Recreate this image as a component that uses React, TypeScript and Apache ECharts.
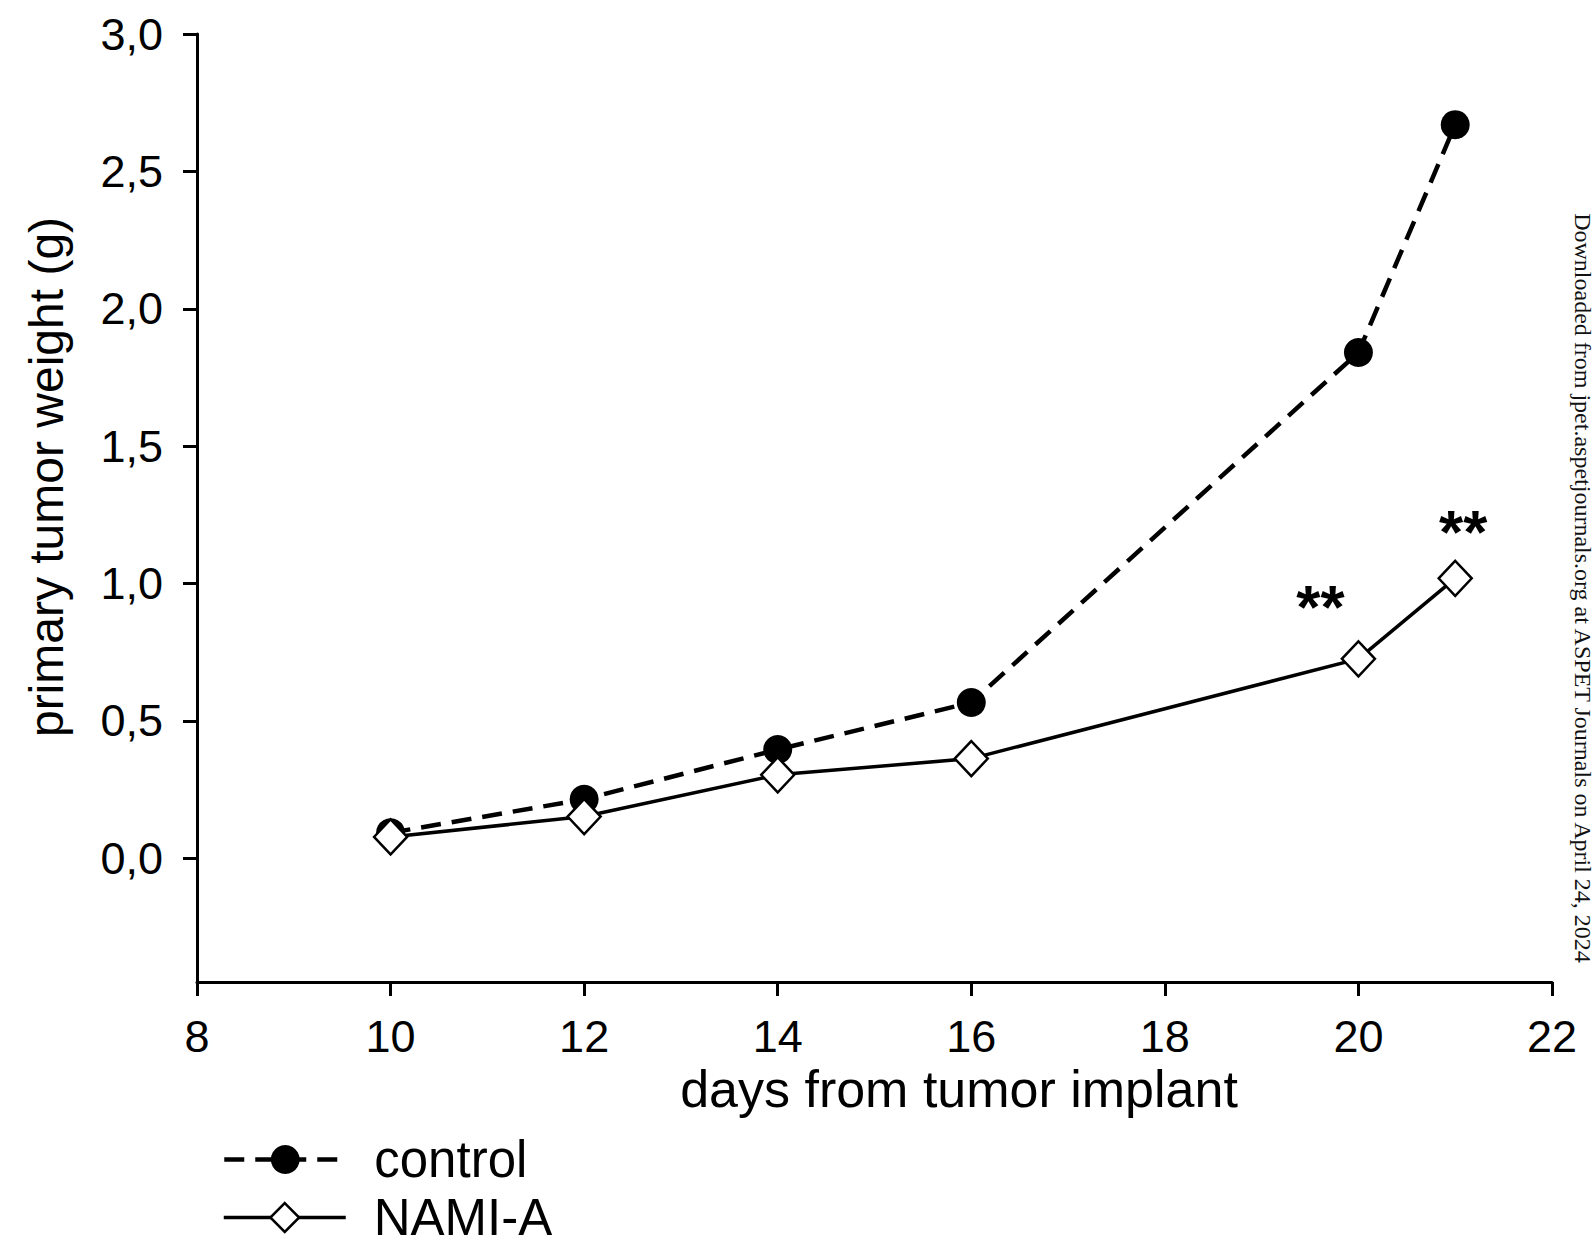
import React, { useEffect, useRef } from "react";
import * as echarts from "echarts";

// ---- data ----
const xDays = [10, 12, 14, 16, 20, 21];
const controlWeights = [0.093, 0.215, 0.396, 0.567, 1.841, 2.67];
const namiWeights = [0.078, 0.152, 0.304, 0.363, 0.726, 1.019];
const significance = ["", "", "", "", "**", "**"];
const yTickValues = [0, 0.5, 1, 1.5, 2, 2.5, 3];
const seriesNames = ["control", "NAMI-A"];
const xTitle = "days from tumor implant";
const yTitle = "primary tumor weight (g)";
const watermark =
  "Downloaded from jpet.aspetjournals.org at ASPET Journals on April 24, 2024";

// ---- styling ----
const SANS = "'Liberation Sans', Arial, sans-serif";
const SERIF = "'Liberation Serif', 'Times New Roman', serif";
const starOffsets: Record<number, [number, number]> = {
  4: [-38, -52],
  5: [8, -47],
};
const controlLine = { color: "#000", width: 4.5, type: [20, 11] as number[] };
const namiLine = { color: "#000", width: 3.5, type: "solid" };
const controlItem = { color: "#000" };
const namiItem = { color: "#fff", borderColor: "#000", borderWidth: 2.5 };
const legendRowTops = [1134, 1192];
const LEGEND_ICON_H = 36;

function buildOption() {
  const controlData = xDays.map((d, i) => [d, controlWeights[i]]);
  const namiData = xDays.map((d, i) => {
    const item: any = { value: [d, namiWeights[i]] };
    if (significance[i]) {
      item.label = {
        show: true,
        formatter: significance[i],
        position: "inside",
        offset: starOffsets[i] || [0, -40],
        fontSize: 62,
        fontWeight: "bold",
        fontFamily: SANS,
        color: "#000",
        align: "center",
        verticalAlign: "middle",
      };
    }
    return item;
  });

  const legendStyles = [
    { lineStyle: controlLine, itemStyle: controlItem },
    { lineStyle: namiLine, itemStyle: namiItem },
  ];
  const legends = seriesNames.map((name, i) => ({
    data: [{ name, ...legendStyles[i] }],
    orient: "vertical",
    left: 222,
    top: legendRowTops[i],
    itemWidth: 122,
    itemHeight: LEGEND_ICON_H,
    selectedMode: false,
    padding: 0,
    textStyle: {
      fontSize: 51,
      lineHeight: LEGEND_ICON_H,
      fontFamily: SANS,
      color: "#000",
      padding: [0, 0, 0, 23],
    },
  }));

  return {
    animation: false,
    backgroundColor: "#fff",
    grid: { left: 197, right: 44, top: 34, bottom: 263, containLabel: false },
    xAxis: {
      type: "value",
      min: 8,
      max: 22,
      interval: 2,
      axisLine: { show: true, onZero: false, lineStyle: { color: "#000", width: 3 } },
      axisTick: { show: true, length: 14, lineStyle: { color: "#000", width: 3 } },
      axisLabel: { fontSize: 45, fontFamily: SANS, color: "#000", margin: 32 },
      splitLine: { show: false },
    },
    yAxis: {
      type: "value",
      min: -0.45,
      max: 3,
      axisLine: { show: true, onZero: false, lineStyle: { color: "#000", width: 3 } },
      axisTick: {
        show: true,
        length: 14,
        customValues: yTickValues,
        lineStyle: { color: "#000", width: 3 },
      },
      axisLabel: {
        customValues: yTickValues,
        formatter: (v: number) => v.toFixed(1).replace(".", ","),
        fontSize: 45,
        fontFamily: SANS,
        color: "#000",
        margin: 34,
      },
      splitLine: { show: false },
    },
    legend: legends,
    graphic: [
      {
        type: "text",
        x: 46,
        y: 477,
        rotation: Math.PI / 2,
        style: {
          text: yTitle,
          font: `48px ${SANS}`,
          fill: "#000",
          textAlign: "center",
          textVerticalAlign: "middle",
        },
      },
      {
        type: "text",
        x: 959,
        y: 1089,
        style: {
          text: xTitle,
          font: `52px ${SANS}`,
          fill: "#000",
          textAlign: "center",
          textVerticalAlign: "middle",
        },
      },
      {
        type: "text",
        x: 1583,
        y: 588,
        rotation: -Math.PI / 2,
        style: {
          text: watermark,
          font: `24px ${SERIF}`,
          fill: "#111",
          textAlign: "center",
          textVerticalAlign: "middle",
        },
      },
    ],
    series: [
      {
        name: seriesNames[0],
        type: "line",
        data: controlData,
        symbol: "circle",
        symbolSize: 29,
        itemStyle: controlItem,
        lineStyle: controlLine,
        z: 2,
      },
      {
        name: seriesNames[1],
        type: "line",
        data: namiData,
        symbol: "diamond",
        symbolSize: [33, 35],
        itemStyle: namiItem,
        lineStyle: namiLine,
        z: 3,
      },
    ],
  };
}

export default function App() {
  const ref = useRef<HTMLDivElement>(null);
  useEffect(() => {
    if (!ref.current) return;
    const chart = echarts.init(ref.current, null, { renderer: "svg" });
    chart.setOption(buildOption() as any);
    return () => chart.dispose();
  }, []);
  return (
    <div
      ref={ref}
      style={{
        position: "fixed",
        left: 0,
        top: 0,
        width: 1596,
        height: 1245,
        background: "#fff",
      }}
    />
  );
}
